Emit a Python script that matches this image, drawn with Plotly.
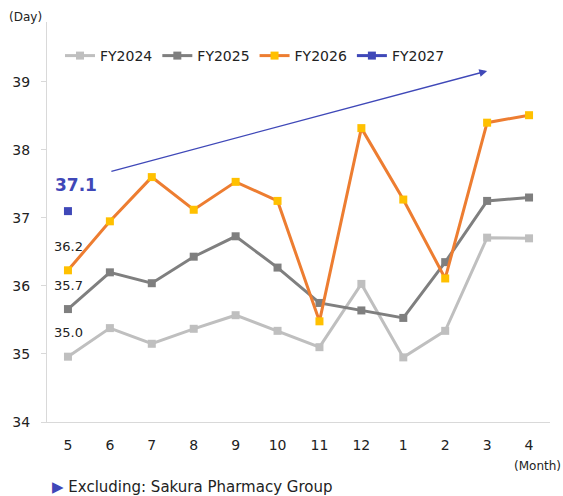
import plotly.graph_objects as go

months = ["5", "6", "7", "8", "9", "10", "11", "12", "1", "2", "3", "4"]
fy2024 = [34.96, 35.38, 35.15, 35.37, 35.57, 35.34, 35.10, 36.03, 34.95, 35.34, 36.71, 36.70]
fy2025 = [35.66, 36.20, 36.04, 36.43, 36.73, 36.27, 35.75, 35.64, 35.53, 36.35, 37.25, 37.30]
fy2026 = [36.23, 36.95, 37.60, 37.12, 37.53, 37.25, 35.48, 38.32, 37.27, 36.11, 38.40, 38.51]
fy2027 = [37.1]

FONT = "DejaVu Sans"
xi = list(range(len(months)))

W, H = 563, 496
l, r, t, b = 47, 13, 22, 74
pw, ph = W - l - r, H - t - b
def px(x, y):
    return (x - l) / pw, (H - b - y) / ph

fig = go.Figure()
series = [
    ("FY2024", fy2024, "#BFBFBF", "#BFBFBF"),
    ("FY2025", fy2025, "#7F7F7F", "#7F7F7F"),
    ("FY2026", fy2026, "#ED7D31", "#FFC000"),
    ("FY2027", fy2027, "#3F48B8", "#3F48B8"),
]
for name, vals, lc, mc in series:
    fig.add_trace(go.Scatter(
        x=xi[:len(vals)], y=vals, name=name, mode="lines+markers",
        line=dict(color=lc, width=3),
        marker=dict(symbol="square", size=8, color=mc),
    ))

annotations = []
for val, col, size, bold in [(fy2024[0], "#222222", 13, False), (fy2025[0], "#222222", 13, False),
                              (fy2026[0], "#222222", 13, False), (fy2027[0], "#3F48B8", 17, True)]:
    txt = f"{val:.1f}"
    if bold:
        txt = f"<b>{txt}</b>"
    annotations.append(dict(x=0, y=val, xref="x", yref="y", text=txt, showarrow=False,
                            yshift=24 if not bold else 26, xshift=1 if not bold else 8,
                            font=dict(family=FONT, size=size, color=col)))

# trend arrow
annotations.append(dict(x=10.0, y=39.16, ax=1.0, ay=37.68, xref="x", yref="y", axref="x", ayref="y",
                        text="", showarrow=True, arrowhead=2, arrowsize=1.2, arrowwidth=1.3,
                        arrowcolor="#3F48B8"))
dx, dy = px(25, 17)
annotations.append(dict(x=dx, y=dy, xref="paper", yref="paper", text="(Day)", showarrow=False,
                        xanchor="center", yanchor="middle",
                        font=dict(family=FONT, size=12, color="#222222")))
mx, my = px(537, 466)
annotations.append(dict(x=mx, y=my, xref="paper", yref="paper",
                        text="(Month)", showarrow=False, xanchor="center", yanchor="middle",
                        font=dict(family=FONT, size=12, color="#222222")))
fx, fy = px(50, 487)
annotations.append(dict(x=fx, y=fy, xref="paper", yref="paper",
                        text="<span style='color:#3F48B8'>▶</span> Excluding: Sakura Pharmacy Group",
                        showarrow=False, xanchor="left", yanchor="middle",
                        font=dict(family=FONT, size=15, color="#222222")))

lx, ly = px(60, 40)
fig.update_layout(
    width=W, height=H,
    margin=dict(l=l, r=r, t=t, b=b),
    paper_bgcolor="white", plot_bgcolor="white",
    font=dict(family=FONT, size=14, color="#222222"),
    showlegend=True,
    legend=dict(orientation="h", x=lx, y=ly, xanchor="left", yanchor="top",
                font=dict(family=FONT, size=14, color="#222222"),
                bgcolor="rgba(0,0,0,0)", itemwidth=30, tracegroupgap=0),
    xaxis=dict(tickmode="array", tickvals=xi, ticktext=months, range=[-0.5, 11.5],
               showgrid=False, zeroline=False, showline=True, linecolor="#D9D9D9", linewidth=1,
               ticks="", ticklabelstandoff=10, tickfont=dict(family=FONT, size=14, color="#222222")),
    yaxis=dict(range=[34, 39.88], tickvals=[34, 35, 36, 37, 38, 39], showgrid=False, zeroline=False,
               showline=True, linecolor="#D9D9D9", linewidth=1, ticks="outside", ticklen=5,
               tickcolor="#D9D9D9", ticklabelstandoff=8,
               tickfont=dict(family=FONT, size=14, color="#222222")),
    annotations=annotations,
)

fig.write_html("out.html")
